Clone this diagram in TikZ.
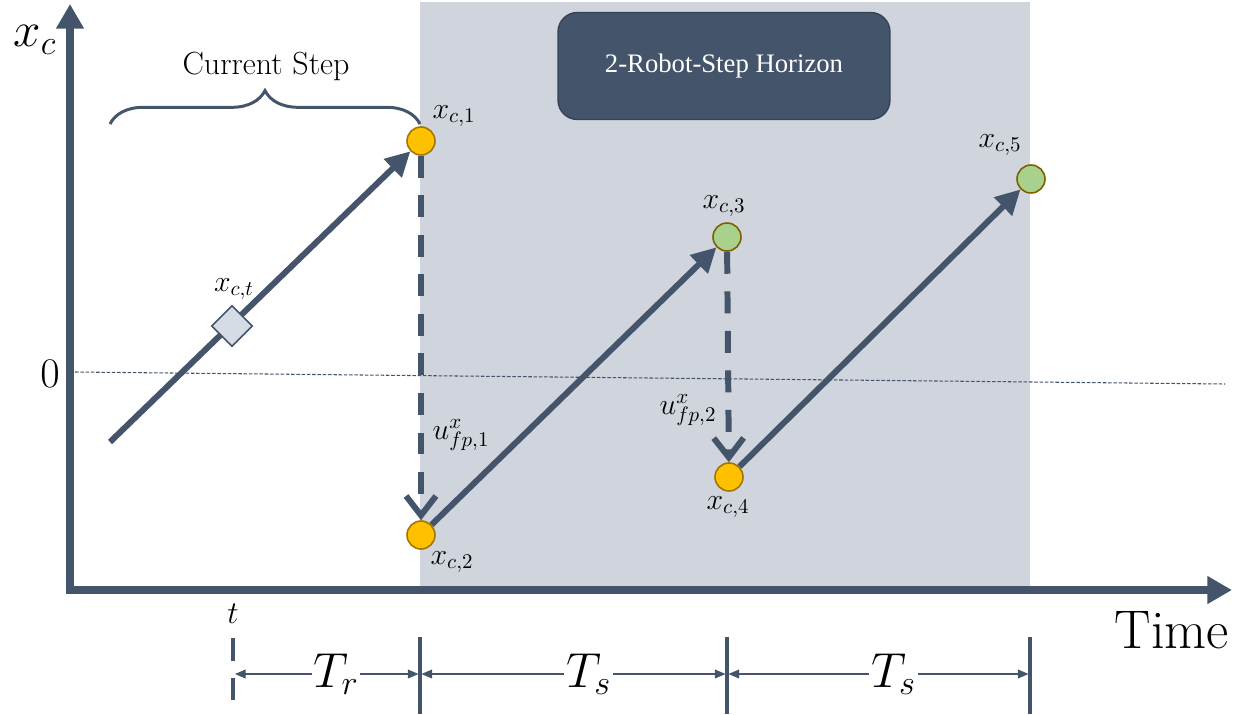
\RequirePackage{fix-cm}
\documentclass[tikz,border=0pt]{standalone}
\usepackage{fontspec}
\newfontfamily\boxfont{Liberation Serif}
\usetikzlibrary{arrows.meta,shapes.geometric,decorations.pathreplacing}

\definecolor{slate}{HTML}{44546A}
\definecolor{horizonshade}{HTML}{D0D4DC}
\definecolor{footorange}{HTML}{FFC000}
\definecolor{footorangeline}{HTML}{A07800}
\definecolor{predgreen}{HTML}{A9D18E}
\definecolor{predgreenline}{HTML}{7F6000}
\definecolor{curfill}{HTML}{D6DCE5}

\tikzset{
  axis/.style={slate,line width=4pt,
    {Triangle[length=14pt,width=15pt]}-{Triangle[length=14pt,width=15pt]}},
  traj/.style={slate,line width=3.4pt,-{Triangle[length=14pt,width=14pt]}},
  jump/.style={slate,line width=3.4pt,dash pattern=on 12.5pt off 10pt,
    -{Straight Barb[length=11pt,width=17pt]}},
  dot/.style={circle,draw,line width=0.9pt,minimum size=0.56cm,inner sep=0pt},
  footdot/.style={dot,fill=footorange,draw=footorangeline},
  preddot/.style={dot,fill=predgreen,draw=predgreenline},
  curdot/.style={diamond,draw=slate,fill=curfill,line width=0.9pt,
    minimum size=0.82cm,inner sep=0pt},
  lbl/.style={font=\fontsize{17}{20}\selectfont,inner sep=0pt},
  bigmath/.style={font=\fontsize{28}{30}\selectfont,text=black,inner sep=1pt},
  tick/.style={slate,line width=2.6pt},
  dim/.style={slate,line width=0.6pt,
    {Triangle[length=6pt,width=5pt]}-{Triangle[length=6pt,width=5pt]}},
  horizon/.style={draw=slate!80!black,fill=slate,text=white,line width=0.8pt,
    rounded corners=11pt,minimum width=6.64cm,minimum height=2.14cm,
    font=\boxfont\fontsize{15.2}{17}\selectfont}
}

\begin{document}
\begin{tikzpicture}[x=0.02cm,y=-0.02cm,line join=miter]
  \useasboundingbox (0,0) rectangle (1241,714);

  % Shaded horizon
  \fill[horizonshade] (420,2) rectangle (1030,590);
  \node[horizon] (hz) at (724,66) {2-Robot-Step Horizon};

  % Zero level
  \coordinate (z0) at (75,372);
  \coordinate (z1) at (1225,384);
  \draw[slate,line width=0.6pt,dash pattern=on 2pt off 1pt] (z0) -- (z1);

  % Axes
  \coordinate (O) at (70,590);
  \coordinate (ytip) at (70,4);
  \coordinate (xtip) at (1232,590);
  \draw[axis] (ytip) -- (O) -- (xtip);
  \node[font=\fontsize{28}{30}\selectfont] (xc) at (35,40) {$x_c$};
  \node[font=\fontsize{24}{26}\selectfont] (zero) at (50,374) {$0$};
  \node[font=\fontsize{31}{33}\selectfont] (time) at (1172,630) {Time};

  % States
  \coordinate (s0) at (110,442);
  \node[footdot] (c1) at (421,141) {};
  \node[footdot] (c2) at (421,535) {};
  \node[preddot] (c3) at (727,237) {};
  \node[footdot] (c4) at (729,477) {};
  \node[preddot] (c5) at (1031,179) {};

  % Trajectory and foot placements
  \draw[traj] (s0) -- (c1);
  \draw[traj] (c2) -- (c3);
  \draw[traj] (c4) -- (c5);
  \draw[jump] (c1) -- (c2);
  \draw[jump] (c3) -- (c4);
  \node[curdot] (ct) at (232,326) {};

  % Labels
  \node[lbl] (lc1) at (454,116) {$x_{c,1}$};
  \node[lbl] (lc2) at (452,562) {$x_{c,2}$};
  \node[lbl] (lc3) at (724,206) {$x_{c,3}$};
  \node[lbl] (lc4) at (728,507) {$x_{c,4}$};
  \node[lbl] (lc5) at (1000,145) {$x_{c,5}$};
  \node[lbl] (lct) at (234,289) {$x_{c,t}$};
  \node[lbl] (lu1) at (461,435) {$u^x_{fp,1}$};
  \node[lbl] (lu2) at (688,410) {$u^x_{fp,2}$};

  % Current step brace
  \coordinate (bl) at (110,124);
  \coordinate (br) at (420,124);
  \draw[slate,line width=1.7pt,decorate,decoration={brace,amplitude=19pt}] (bl) -- (br);
  \node[font=\fontsize{18.2}{20}\selectfont] (cs) at (266,66) {Current Step};

  % Timing
  \coordinate (k0a) at (233,638);
  \coordinate (k0b) at (233,702);
  \coordinate (k1a) at (420,637);
  \coordinate (k1b) at (420,714);
  \coordinate (k2a) at (727,637);
  \coordinate (k2b) at (727,714);
  \coordinate (k3a) at (1030,637);
  \coordinate (k3b) at (1030,714);
  \draw[tick,dash pattern=on 13pt off 9.5pt] (k0a) -- (k0b);
  \draw[tick] (k1a) -- (k1b);
  \draw[tick] (k2a) -- (k2b);
  \draw[tick] (k3a) -- (k3b);
  \node[font=\fontsize{18}{20}\selectfont] (tt) at (233,614) {$t$};

  \coordinate (d0) at (235,674);
  \coordinate (d1l) at (418.5,674);
  \coordinate (d1r) at (421.5,674);
  \coordinate (d2l) at (725.5,674);
  \coordinate (d2r) at (728.5,674);
  \coordinate (d3) at (1028.5,674);
  \draw[dim] (d0) -- (d1l) node[pos=0.55,fill=white,bigmath] (tr) {$T_r$};
  \draw[dim] (d1r) -- (d2l) node[pos=0.55,fill=white,bigmath] (ts1) {$T_s$};
  \draw[dim] (d2r) -- (d3) node[pos=0.55,fill=white,bigmath] (ts2) {$T_s$};
\end{tikzpicture}
\end{document}
